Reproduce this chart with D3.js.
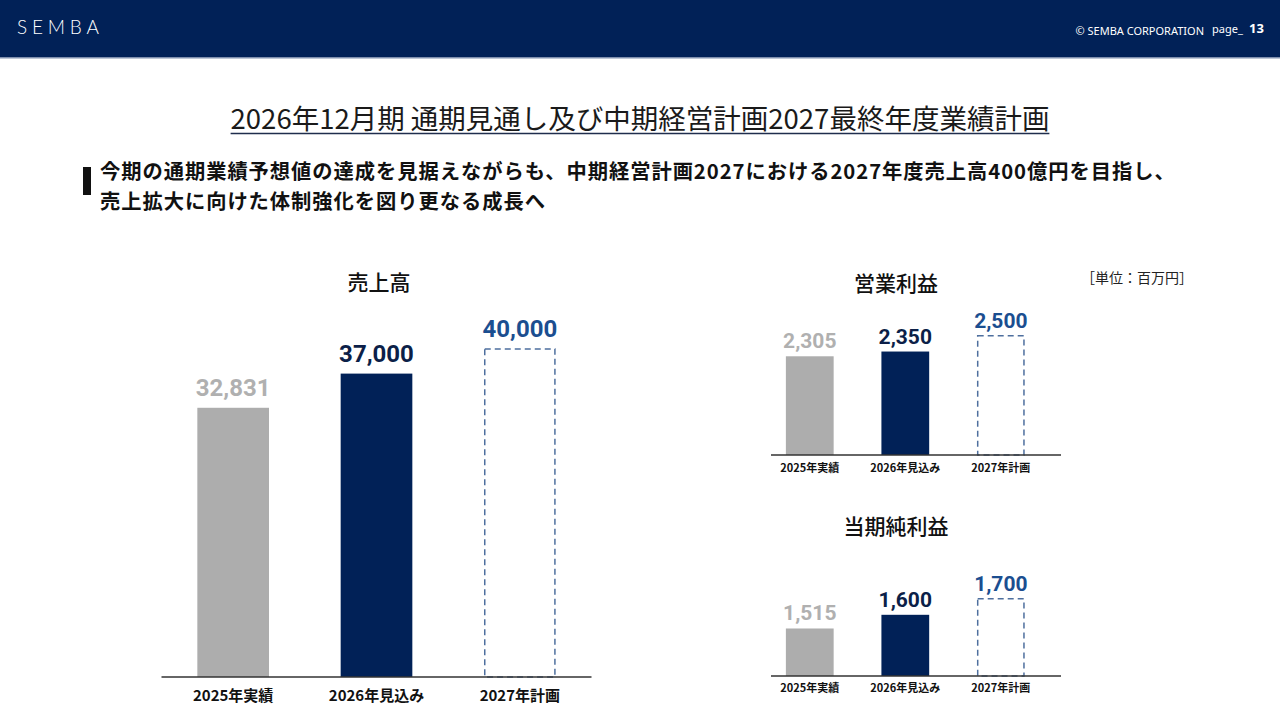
<!DOCTYPE html>
<html lang="ja">
<head>
<meta charset="utf-8">
<script src="https://cdn.jsdelivr.net/npm/d3@7"></script>
<style>
  html, body { margin: 0; padding: 0; background: #fff; }
  svg { display: block; }
  .jp { font-family: "Noto Sans CJK JP", "Noto Sans", sans-serif; }
  .num { font-family: Roboto, "Noto Sans", sans-serif; }
</style>
</head>
<body>
<svg id="chart" width="1280" height="720"></svg>
<script>
// ---- data ----
const categories = ["2025年実績", "2026年見込み", "2027年計画"];
const salesValues = [32831, 37000, 40000];
const opProfitValues = [2305, 2350, 2500];
const netProfitValues = [1515, 1600, 1700];
const salesLabels = ["32,831", "37,000", "40,000"];
const opProfitLabels = ["2,305", "2,350", "2,500"];
const netProfitLabels = ["1,515", "1,600", "1,700"];
const chartTitles = ["売上高", "営業利益", "当期純利益"];
const pageTitle = "2026年12月期 通期見通し及び中期経営計画2027最終年度業績計画";
const subtitleLines = [
  "今期の通期業績予想値の達成を見据えながらも、中期経営計画2027における2027年度売上高400億円を目指し、",
  "売上拡大に向けた体制強化を図り更なる成長へ"
];
const unitLabel = "［単位：百万円］";

// ---- styles ----
const NAVY = "#012157";
const barFill = ["#adadad", NAVY, "none"];
const labelFill = ["#b0b0b0", "#0c1f48", "#1b4e90"];
const dashStroke = "#4e6f9e";

const svg = d3.select("#chart");

// ---- header ----
svg.append("rect").attr("x", 0).attr("y", 0).attr("width", 1280).attr("height", 57).attr("fill", NAVY);
svg.append("rect").attr("x", 0).attr("y", 57).attr("width", 1280).attr("height", 1.5).attr("fill", "#7f8fae");
svg.append("text").attr("x", 17).attr("y", 33.5)
  .attr("font-family", "Lato, 'Noto Sans', sans-serif").attr("font-weight", 300)
  .attr("font-size", 19).attr("letter-spacing", 4.8).attr("fill", "#fff").text("SEMBA");
svg.append("text").attr("x", 1204).attr("y", 35).attr("text-anchor", "end")
  .attr("font-family", "'Noto Sans', sans-serif").attr("font-size", 11).attr("fill", "#fff")
  .text("© SEMBA CORPORATION");
svg.append("text").attr("x", 1212).attr("y", 33)
  .attr("font-family", "'Noto Sans', sans-serif").attr("font-size", 11).attr("fill", "#fff").text("page_");
svg.append("text").attr("x", 1249).attr("y", 33)
  .attr("font-family", "'Noto Sans', sans-serif").attr("font-weight", 700).attr("font-size", 13).attr("fill", "#fff").text("13");

// ---- title ----
const title = svg.append("text").attr("class", "jp").attr("x", 640).attr("y", 129)
  .attr("text-anchor", "middle").attr("font-size", 27.5).attr("font-weight", 400).attr("fill", "#1a1a1a")
  .text(pageTitle);
const tb = title.node().getBBox();
svg.append("line").attr("x1", tb.x).attr("x2", tb.x + tb.width).attr("y1", 133.5).attr("y2", 133.5)
  .attr("stroke", "#1f2d4d").attr("stroke-width", 1.5);

// ---- subtitle ----
svg.append("rect").attr("x", 83).attr("y", 167).attr("width", 8).attr("height", 28).attr("fill", "#111");
svg.selectAll("text.sub").data(subtitleLines).enter().append("text")
  .attr("class", "jp sub").attr("x", 100).attr("y", (d, i) => 179 + i * 29.5)
  .attr("font-size", 20.3).attr("letter-spacing", 0.95).attr("font-weight", 700).attr("fill", "#111")
  .text(d => d);

// ---- unit ----
svg.append("text").attr("class", "jp").attr("x", 1081).attr("y", 283)
  .attr("font-size", 14).attr("fill", "#222").text(unitLabel);

// ---- chart builder ----
function barChart(cfg) {
  const g = svg.append("g");
  const x = d3.scaleBand().domain(categories).range(cfg.xRange).paddingInner(0.5).paddingOuter(0.25);
  const y = d3.scaleLinear().domain(cfg.yDomain).range(cfg.yRange);
  const data = categories.map((c, i) => ({ c, i, v: cfg.values[i], label: cfg.labels[i] }));

  // title
  g.append("text").attr("class", "jp").attr("x", cfg.titleX).attr("y", cfg.titleY)
    .attr("text-anchor", "middle").attr("font-size", 21).attr("font-weight", 500).attr("fill", "#111")
    .text(cfg.title);

  // bars
  g.selectAll("rect.bar").data(data).enter().append("rect").attr("class", "bar")
    .attr("x", d => x(d.c) + (d.i === 2 ? 0.75 : 0))
    .attr("width", d => x.bandwidth() - (d.i === 2 ? 1.5 : 0))
    .attr("y", d => y(d.v))
    .attr("height", d => y.range()[0] - y(d.v))
    .attr("fill", d => barFill[d.i])
    .attr("stroke", d => d.i === 2 ? dashStroke : "none")
    .attr("stroke-width", d => d.i === 2 ? 1.5 : 0)
    .attr("stroke-dasharray", d => d.i === 2 ? "6,4" : null);

  // value labels
  g.selectAll("text.val").data(data).enter().append("text").attr("class", "num val")
    .attr("x", d => x(d.c) + x.bandwidth() / 2)
    .attr("y", d => y(d.v) - cfg.labelGap)
    .attr("text-anchor", "middle").attr("font-size", cfg.valSize).attr("font-weight", 700)
    .attr("fill", d => labelFill[d.i]).text(d => d.label);

  // axis
  const axis = g.append("g").attr("transform", `translate(0,${y.range()[0]})`)
    .call(d3.axisBottom(x).tickSize(0).tickPadding(cfg.tickPad));
  axis.select(".domain").remove();
  g.append("line").attr("x1", cfg.axisX[0]).attr("x2", cfg.axisX[1])
    .attr("y1", y.range()[0]).attr("y2", y.range()[0])
    .attr("stroke", "#333").attr("stroke-width", 1.5);
  axis.selectAll("text").attr("class", "jp").attr("font-size", cfg.catSize).attr("font-weight", 700)
    .attr("fill", "#111");
}

barChart({
  title: chartTitles[0], titleX: 379, titleY: 290,
  values: salesValues, labels: salesLabels,
  xRange: [161.5, 591.5], yDomain: [0, 40000], yRange: [677, 349],
  axisX: [161.5, 591.5], labelGap: 12, valSize: 24, catSize: 15, tickPad: 13
});
barChart({
  title: chartTitles[1], titleX: 896, titleY: 291,
  values: opProfitValues, labels: opProfitLabels,
  xRange: [762, 1048.6], yDomain: [1370, 2500], yRange: [455, 335.7],
  axisX: [771, 1061], labelGap: 8, valSize: 21, catSize: 11, tickPad: 9
});
barChart({
  title: chartTitles[2], titleX: 896, titleY: 534,
  values: netProfitValues, labels: netProfitLabels,
  xRange: [762, 1048.6], yDomain: [1220, 1700], yRange: [676, 598.7],
  axisX: [771, 1061], labelGap: 8, valSize: 21, catSize: 11, tickPad: 8
});
</script>
</body>
</html>
